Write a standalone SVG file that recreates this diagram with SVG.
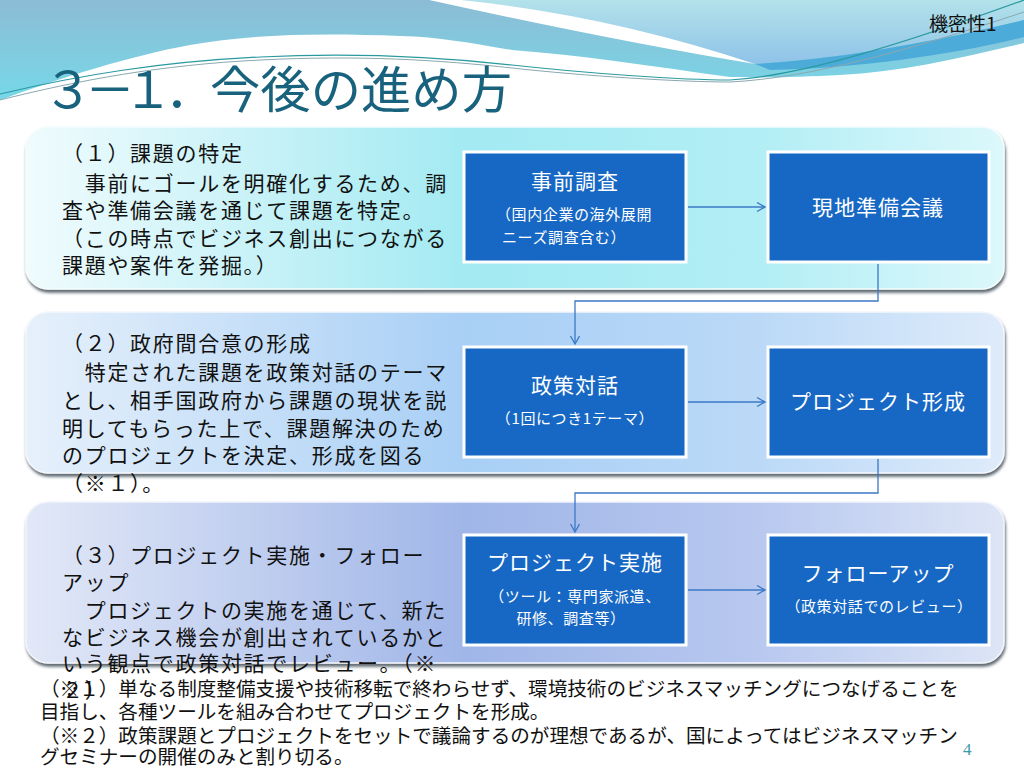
<svg xmlns="http://www.w3.org/2000/svg" width="1024" height="768" viewBox="0 0 1024 768">
<defs>
<style>
.jp{font-family:"Noto Sans CJK JP","Noto Sans",sans-serif;}
.pt{font-size:21px;letter-spacing:1.7px;fill:#111;}
.fn{font-size:19.6px;fill:#111;}
.bt{font-size:21px;letter-spacing:1px;fill:#fff;text-anchor:middle;}
.bs{font-size:15px;letter-spacing:0.6px;fill:#fff;}
.box{fill:#1768c4;stroke:#fff;stroke-width:3;}
.con{fill:none;stroke:#3b78c6;stroke-width:1.3;}
</style>
<linearGradient id="gTop" x1="0" y1="0" x2="0" y2="1">
<stop offset="0" stop-color="#8bbcd5"/><stop offset="0.6" stop-color="#80cde0"/><stop offset="1" stop-color="#74d8e8"/>
</linearGradient>
<linearGradient id="gTR" x1="0" y1="0" x2="0" y2="1">
<stop offset="0" stop-color="#b3e2ea"/><stop offset="1" stop-color="#8fc3e8"/>
</linearGradient>
<linearGradient id="g1" x1="0" y1="0" x2="1" y2="0">
<stop offset="0" stop-color="#f0fbfd"/><stop offset="0.45" stop-color="#a3eaf2"/><stop offset="0.75" stop-color="#b2eef5"/><stop offset="1" stop-color="#dcf8fb"/>
</linearGradient>
<linearGradient id="g2" x1="0" y1="0" x2="1" y2="0">
<stop offset="0" stop-color="#e6f0fb"/><stop offset="0.45" stop-color="#a8cff5"/><stop offset="0.75" stop-color="#bbd9f7"/><stop offset="1" stop-color="#deebfa"/>
</linearGradient>
<linearGradient id="g3" x1="0" y1="0" x2="1" y2="0">
<stop offset="0" stop-color="#e2e8f7"/><stop offset="0.45" stop-color="#a0b6e8"/><stop offset="0.75" stop-color="#b8c8ef"/><stop offset="1" stop-color="#dde5f6"/>
</linearGradient>
<filter id="sh" x="-5%" y="-10%" width="110%" height="125%">
<feDropShadow dx="1" dy="3" stdDeviation="1.8" flood-color="#2a3440" flood-opacity="0.75"/>
</filter>
<marker id="arr" markerUnits="userSpaceOnUse" markerWidth="12" markerHeight="12" refX="9" refY="5" orient="auto">
<path d="M1,0.5 L9,5 L1,9.5" fill="none" stroke="#3b78c6" stroke-width="1.3"/>
</marker>
</defs>

<rect width="1024" height="768" fill="#fff"/>

<g id="background">
<path d="M0,0 H1024 V43 C960,58 900,72 840,75 C800,77 760,78 730,77 C650,66 580,55 512,50 C470,43 440,37 400,36 C320,33 250,34 190,45 C130,56 60,78 0,100 Z" fill="url(#gTop)"/>
<path d="M440,0 H1024 V20 C940,40 850,58 755,64 Q600,12 440,0 Z" fill="url(#gTR)"/>
<path d="M755,64 C850,58 940,40 1024,20 V37 C950,55 860,68 770,70 Z" fill="#4cabd9"/>
<path d="M440,-2 Q600,12 755,64 Q610,40 420,-2 Z" fill="#fff"/>
<path d="M0,94 C80,75 160,62 260,57 S440,57 512,65 S680,80 730,80 C800,76 900,45 1024,0" fill="none" stroke="#2a9aa0" stroke-width="1.2"/>
<path d="M0,100 C80,80 160,65 260,60 S440,60 512,68 S680,82 730,82 C810,78 910,50 1024,12" fill="none" stroke="#8aa8b0" stroke-width="1"/>
</g>

<text class="jp" x="929" y="31" font-size="19" fill="#111">機密性1</text>
<text class="jp" y="108" font-size="50" fill="#19627d"><tspan x="43 85 123 165">３－１．</tspan><tspan x="210" textLength="302" lengthAdjust="spacingAndGlyphs">今後の進め方</tspan></text>

<g id="panel1">
<rect x="26" y="127" width="978" height="162" rx="22" fill="url(#g1)" stroke="#f4fdfe" stroke-width="1.5" filter="url(#sh)"/>
<text class="jp pt" x="62" y="161">（１）課題の特定</text>
<text class="jp pt" x="62" y="191">　事前にゴールを明確化するため、調</text>
<text class="jp pt" x="62" y="218">査や準備会議を通じて課題を特定。</text>
<text class="jp pt" x="62" y="246">（この時点でビジネス創出につながる</text>
<text class="jp pt" x="62" y="273">課題や案件を発掘。）</text>
</g>

<g id="panel2">
<rect x="26" y="312" width="978" height="161" rx="22" fill="url(#g2)" stroke="#f4f8fe" stroke-width="1.5" filter="url(#sh)"/>
<text class="jp pt" x="62" y="351">（２）政府間合意の形成</text>
<text class="jp pt" x="62" y="380">　特定された課題を政策対話のテーマ</text>
<text class="jp pt" x="62" y="408">とし、相手国政府から課題の現状を説</text>
<text class="jp pt" x="62" y="436">明してもらった上で、課題解決のため</text>
<text class="jp pt" x="62" y="463">のプロジェクトを決定、形成を図る</text>
<text class="jp pt" x="62" y="491">（※１）。</text>
</g>

<g id="panel3">
<rect x="26" y="502" width="978" height="161" rx="22" fill="url(#g3)" stroke="#f2f5fd" stroke-width="1.5" filter="url(#sh)"/>
<text class="jp pt" x="62" y="563">（３）プロジェクト実施・フォロー</text>
<text class="jp pt" x="62" y="590">アップ</text>
<text class="jp pt" x="62" y="618">　プロジェクトの実施を通じて、新た</text>
<text class="jp pt" x="62" y="645">なビジネス機会が創出されているかと</text>
<text class="jp pt" x="62" y="671">いう観点で政策対話でレビュー。（※</text>
<text class="jp pt" x="62" y="698">２）</text>
</g>

<g id="node-jizen">
<rect class="box" x="464" y="152" width="222" height="110"/>
<text class="jp bt" x="575" y="189">事前調査</text>
<text class="jp bs" x="496" y="220">（国内企業の海外展開</text>
<text class="jp bs" x="502" y="243">ニーズ調査含む）</text>
</g>
<g id="node-genchi">
<rect class="box" x="768" y="152" width="221" height="110"/>
<text class="jp bt" x="878" y="215">現地準備会議</text>
</g>
<g id="node-seisaku">
<rect class="box" x="464" y="347" width="222" height="110"/>
<text class="jp bt" x="575" y="393">政策対話</text>
<text class="jp bs" x="575" y="424" text-anchor="middle">（1回につき1テーマ）</text>
</g>
<g id="node-keisei">
<rect class="box" x="768" y="347" width="221" height="110"/>
<text class="jp bt" x="878" y="409">プロジェクト形成</text>
</g>
<g id="node-jisshi">
<rect class="box" x="464" y="535" width="222" height="110"/>
<text class="jp bt" x="575" y="570">プロジェクト実施</text>
<text class="jp bs" x="575" y="602" text-anchor="middle">（ツール：専門家派遣、</text>
<text class="jp bs" x="571" y="624" text-anchor="middle">研修、調査等）</text>
</g>
<g id="node-follow">
<rect class="box" x="768" y="535" width="221" height="110"/>
<text class="jp bt" x="878" y="581">フォローアップ</text>
<text class="jp bs" x="879" y="612" text-anchor="middle">（政策対話でのレビュー）</text>
</g>

<g id="connectors">
<path class="con" d="M688,207 H765" marker-end="url(#arr)"/>
<path class="con" d="M878,264 V301 H575 V344" marker-end="url(#arr)"/>
<path class="con" d="M688,402 H765" marker-end="url(#arr)"/>
<path class="con" d="M878,459 V493 H575 V532" marker-end="url(#arr)"/>
<path class="con" d="M688,590 H765" marker-end="url(#arr)"/>
</g>

<g id="footnotes">
<text class="jp fn" x="40" y="696">（※１）単なる制度整備支援や技術移転で終わらせず、環境技術のビジネスマッチングにつなげることを</text>
<text class="jp fn" x="40" y="719">目指し、各種ツールを組み合わせてプロジェクトを形成。</text>
<text class="jp fn" x="40" y="743">（※２）政策課題とプロジェクトをセットで議論するのが理想であるが、国によってはビジネスマッチン</text>
<text class="jp fn" x="40" y="764">グセミナーの開催のみと割り切る。</text>
</g>
<text x="963" y="755" font-family="Liberation Serif,serif" font-size="17" fill="#3c9aa6">4</text>
</svg>
